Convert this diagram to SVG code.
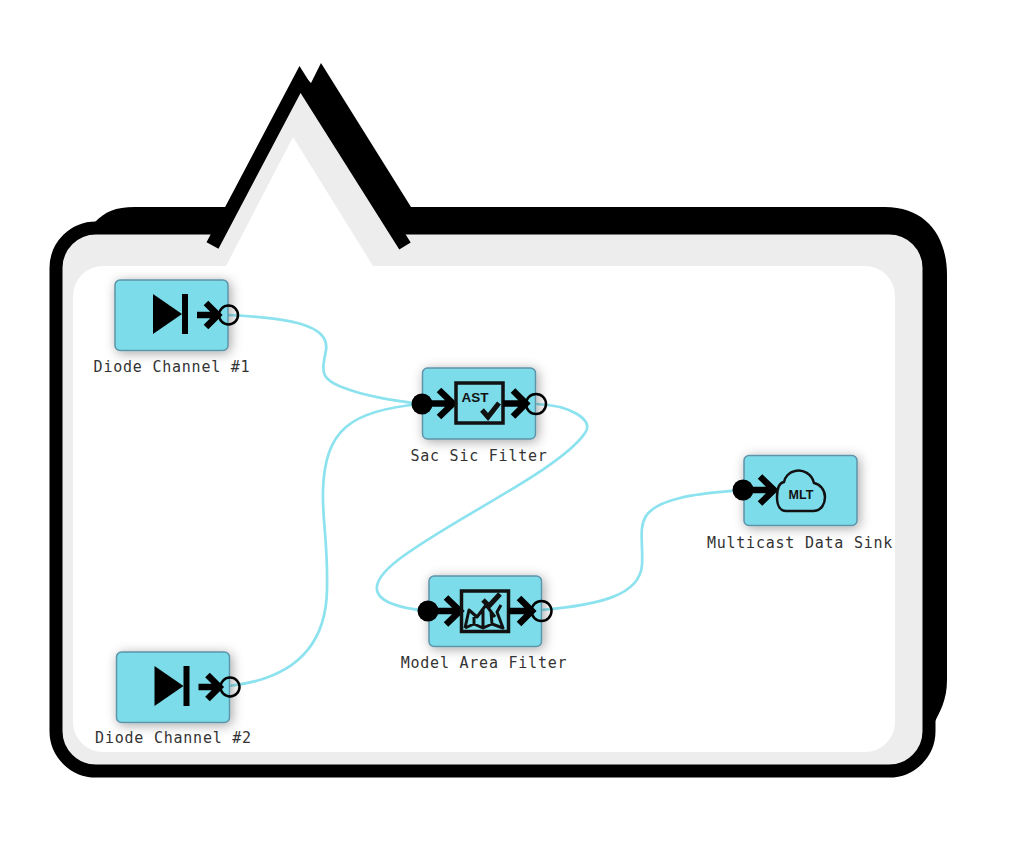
<svg xmlns="http://www.w3.org/2000/svg" width="1030" height="858" viewBox="0 0 1030 858">
<style>
.nb{fill:#7bdcea;stroke:#5f93a8;stroke-width:1.5;filter:url(#ns)}
.lb{font-family:"DejaVu Sans Mono",monospace;font-size:15px;letter-spacing:.77px;fill:#333;text-anchor:middle}
.ic{fill:none;stroke:#000;stroke-width:6.500}
.box{fill:none;stroke:#111;stroke-width:3.500}
.thin{fill:none;stroke:#111;stroke-width:3;stroke-linejoin:round}
.out{fill:none;stroke:#000;stroke-width:2.500}
.cn{fill:none;stroke:#8ce2ee;stroke-width:2.700}
.tt{font-family:"Liberation Sans",sans-serif;font-weight:700;fill:#111;text-anchor:middle}
</style>
<defs>
<filter id="ns" x="-25%" y="-30%" width="150%" height="160%"><feDropShadow dx="2" dy="2" stdDeviation="6" flood-color="#000" flood-opacity=".35"/></filter>
<g id="inArr"><path class="ic" d="M0 0H30M16 -13.500L30 0L16 13.500"/></g>
</defs>
<g id="frame">
<path fill="#000" d="M95 222C105 212 115 207 135 207H226L300 72L311 83L321 63L411 207H885C925 207 947 235 947 275V680C947 700 940 712 933 725L900 770H80Z"/>
<path d="M96 228H889A40 40 0 0 1 929 268V731A40 40 0 0 1 889 771H96A40 40 0 0 1 56 731V268A40 40 0 0 1 96 228Z" fill="#ededed" stroke="#000" stroke-width="13"/>
<path d="M212.500 245.500L300 79.500L405 246Z" fill="#ededed"/>
<path d="M212.500 245.500L300 79.500L405 246" fill="none" stroke="#000" stroke-width="13.500" stroke-miterlimit="10"/>
<path fill="#fff" d="M226 266L293 137L373 266H865A30 30 0 0 1 895 296V722A30 30 0 0 1 865 752H103A30 30 0 0 1 73 722V296A30 30 0 0 1 103 266Z"/>
</g>
<g id="connectors">
<path class="cn" d="M228 315C290 318 330 325 326 350C322 372 318 380 350 390C370 397 395 401 422 404"/>
<path class="cn" d="M229 686C300 678 326 640 327 590C328 540 322 520 323 490C325 430 350 410 422 404"/>
<path class="cn" d="M536 404C570 405 595 420 585 433C560 470 450 520 398 560C366 585 366 605 428 611"/>
<path class="cn" d="M541 610C600 605 640 595 642 565C644 530 630 510 680 498C700 493 720 492 743 490"/>
</g>
<g id="node-diode1">
<rect class="nb" x="115" y="280" width="113" height="70.500" rx="5"/>
<path d="M153 294V334L182 314Z"/><rect x="182" y="294" width="6" height="40"/>
<path class="ic" d="M197 315H218M206 303L218 315L206 327"/>
<circle class="out" cx="228.500" cy="315" r="9.500"/>
<text class="lb" x="172" y="372">Diode Channel #1</text>
</g>
<g id="node-diode2">
<rect class="nb" x="116.500" y="652" width="113" height="70.500" rx="5"/>
<path d="M154.500 666V706L183.500 686Z"/><rect x="183.500" y="666" width="6" height="40"/>
<path class="ic" d="M198.500 687H219.500M207.500 675L219.500 687L207.500 699"/>
<circle class="out" cx="230" cy="687" r="9.500"/>
<text class="lb" x="173.500" y="743">Diode Channel #2</text>
</g>
<g id="node-sac">
<rect class="nb" x="422.500" y="368" width="113" height="71" rx="5"/>
<circle cx="422" cy="404" r="10.500"/>
<use href="#inArr" x="423" y="403.500"/>
<rect class="box" x="456" y="383" width="47" height="40"/>
<text class="tt" x="475" y="402" font-size="13.500">AST</text>
<path d="M482 410L488 417L499 403" fill="none" stroke="#111" stroke-width="5"/>
<path class="ic" d="M503 403.500H526M513 390.500L526 403.500L513 416.500"/>
<circle class="out" cx="536" cy="404" r="10"/>
<text class="lb" x="479" y="461">Sac Sic Filter</text>
</g>
<g id="node-model">
<rect class="nb" x="429" y="576" width="112.500" height="70.500" rx="5"/>
<circle cx="428" cy="611" r="10.500"/>
<use href="#inArr" x="430" y="611"/>
<rect class="box" x="461.500" y="591" width="47" height="40.500"/>
<path class="thin" d="M465 628L469 610L477 617L486 605L495 617M465 628L474 624L483 628L492 624L503 628L497 612L501 605M474 617V624M483 608V628M491 612L492 624"/>
<path d="M483 600L489 606L500 594" fill="none" stroke="#111" stroke-width="5"/>
<path class="ic" d="M509 611H532M519 598L532 611L519 624"/>
<circle class="out" cx="541.500" cy="611" r="10"/>
<text class="lb" x="484" y="668">Model Area Filter</text>
</g>
<g id="node-sink">
<rect class="nb" x="744" y="455.500" width="113" height="70" rx="5"/>
<circle cx="743" cy="490" r="10.500"/>
<use href="#inArr" x="744" y="490"/>
<path d="M786 511H813C822 511 825 503 825 497C825 490 820 484 814 483C812 474 803 469 795 471C789 472 785 477 784 482C778 483 777 490 777 497C777 505 780 511 786 511Z" fill="none" stroke="#111" stroke-width="2.500"/>
<text class="tt" x="801" y="499" font-size="12.500">MLT</text>
<text class="lb" x="800" y="548">Multicast Data Sink</text>
</g>
</svg>
